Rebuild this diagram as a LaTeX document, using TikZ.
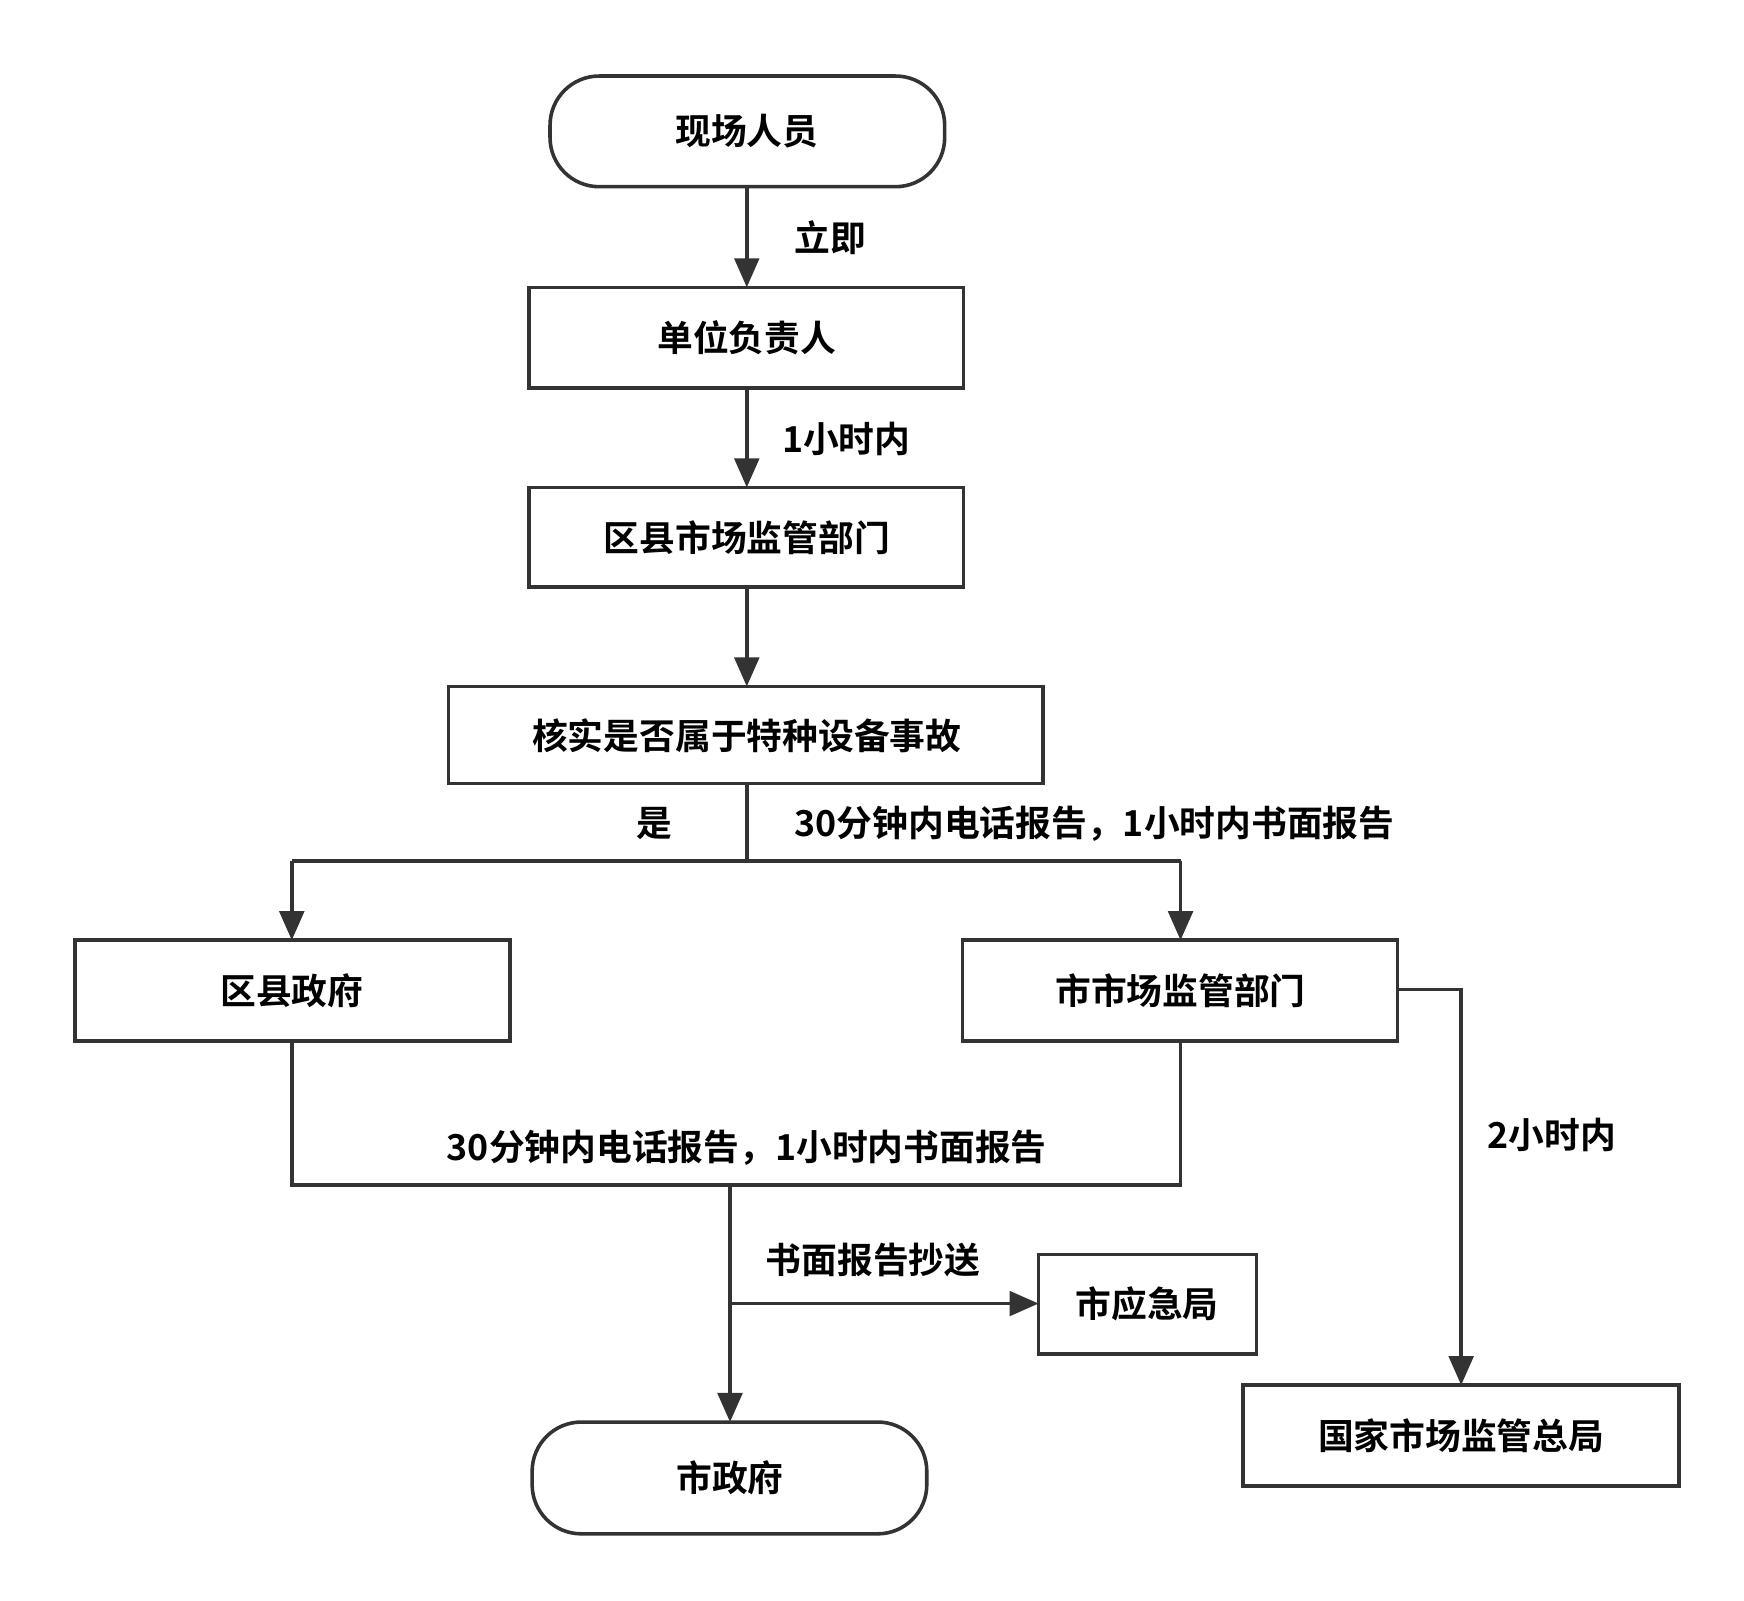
\documentclass[tikz,border=0pt]{standalone}
\usepackage{fontspec}
\setmainfont{Noto Sans CJK SC Bold}
\usetikzlibrary{arrows.meta}
\definecolor{ln}{HTML}{333333}
\begin{document}
\begin{tikzpicture}[x=0.5pt,y=-0.5pt,
  box/.style={draw=ln,line width=1.6pt,rectangle},
  rbox/.style={draw=ln,line width=1.6pt,rounded corners=22pt},
  txt/.style={font=\fontsize{16}{19}\selectfont,text=black},
  conn/.style={draw=ln,line width=1.6pt},
  arr/.style={conn,-{Triangle[length=13pt,width=11pt]}}]
\useasboundingbox (0,0) rectangle (1560,1432);
\draw[rbox] (492,68) rectangle (845,167);
\node[txt] (a) at (668,117) {现场人员};
\draw[box] (473,257) rectangle (862,347);
\node[txt] (b) at (668,302) {单位负责人};
\draw[box] (473,436) rectangle (862,525);
\node[txt] (c) at (668,481) {区县市场监管部门};
\draw[box] (401,614) rectangle (933,701);
\node[txt] (d) at (668,658) {核实是否属于特种设备事故};
\draw[box] (67,841) rectangle (456,931);
\node[txt] (e) at (261,886) {区县政府};
\draw[box] (861,841) rectangle (1250,931);
\node[txt] (f) at (1056,886) {市市场监管部门};
\draw[box] (929,1122) rectangle (1124,1211);
\node[txt] (g) at (1026,1166) {市应急局};
\draw[rbox] (476,1272) rectangle (829,1372);
\node[txt] (h) at (653,1322) {市政府};
\draw[box] (1112,1239) rectangle (1502,1329);
\node[txt] (k) at (1307,1284) {国家市场监管总局};
\coordinate (aB) at (668,167); \coordinate (bT) at (668,257);
\coordinate (bB) at (668,347); \coordinate (cT) at (668,436);
\coordinate (cB) at (668,525); \coordinate (dT) at (668,614);
\coordinate (dB) at (668,701); \coordinate (eT) at (261,841);
\coordinate (fT) at (1056,841); \coordinate (eB) at (261,931);
\coordinate (fB) at (1056,931); \coordinate (hT) at (653,1272);
\coordinate (gL) at (929,1166); \coordinate (fR) at (1250,885);
\coordinate (kT) at (1307,1239);
\draw[arr] (aB) -- (bT);
\draw[arr] (bB) -- (cT);
\draw[arr] (cB) -- (dT);
\draw[conn] (dB) -- (668,770);
\draw[arr] (261,770) -- (eT);
\draw[arr] (1056,770) -- (fT);
\draw[conn] (261,770) -- (1056,770);
\draw[conn] (eB) -- (261,1060) -- (1056,1060) -- (fB);
\draw[arr] (653,1060) -- (hT);
\draw[arr] (653,1166) -- (gL);
\draw[arr] (fR) -- (1307,885) -- (kT);
\node[txt] (l1) at (743,213) {立即};
\node[txt] (l2) at (757,393) {1小时内};
\node[txt] (l3) at (585,737) {是};
\node[txt] (l4) at (979,737) {30分钟内电话报告，1小时内书面报告};
\node[txt] (l5) at (668,1027) {30分钟内电话报告，1小时内书面报告};
\node[txt] (l6) at (781,1127) {书面报告抄送};
\node[txt] (l7) at (1388,1015) {2小时内};
\end{tikzpicture}
\end{document}
